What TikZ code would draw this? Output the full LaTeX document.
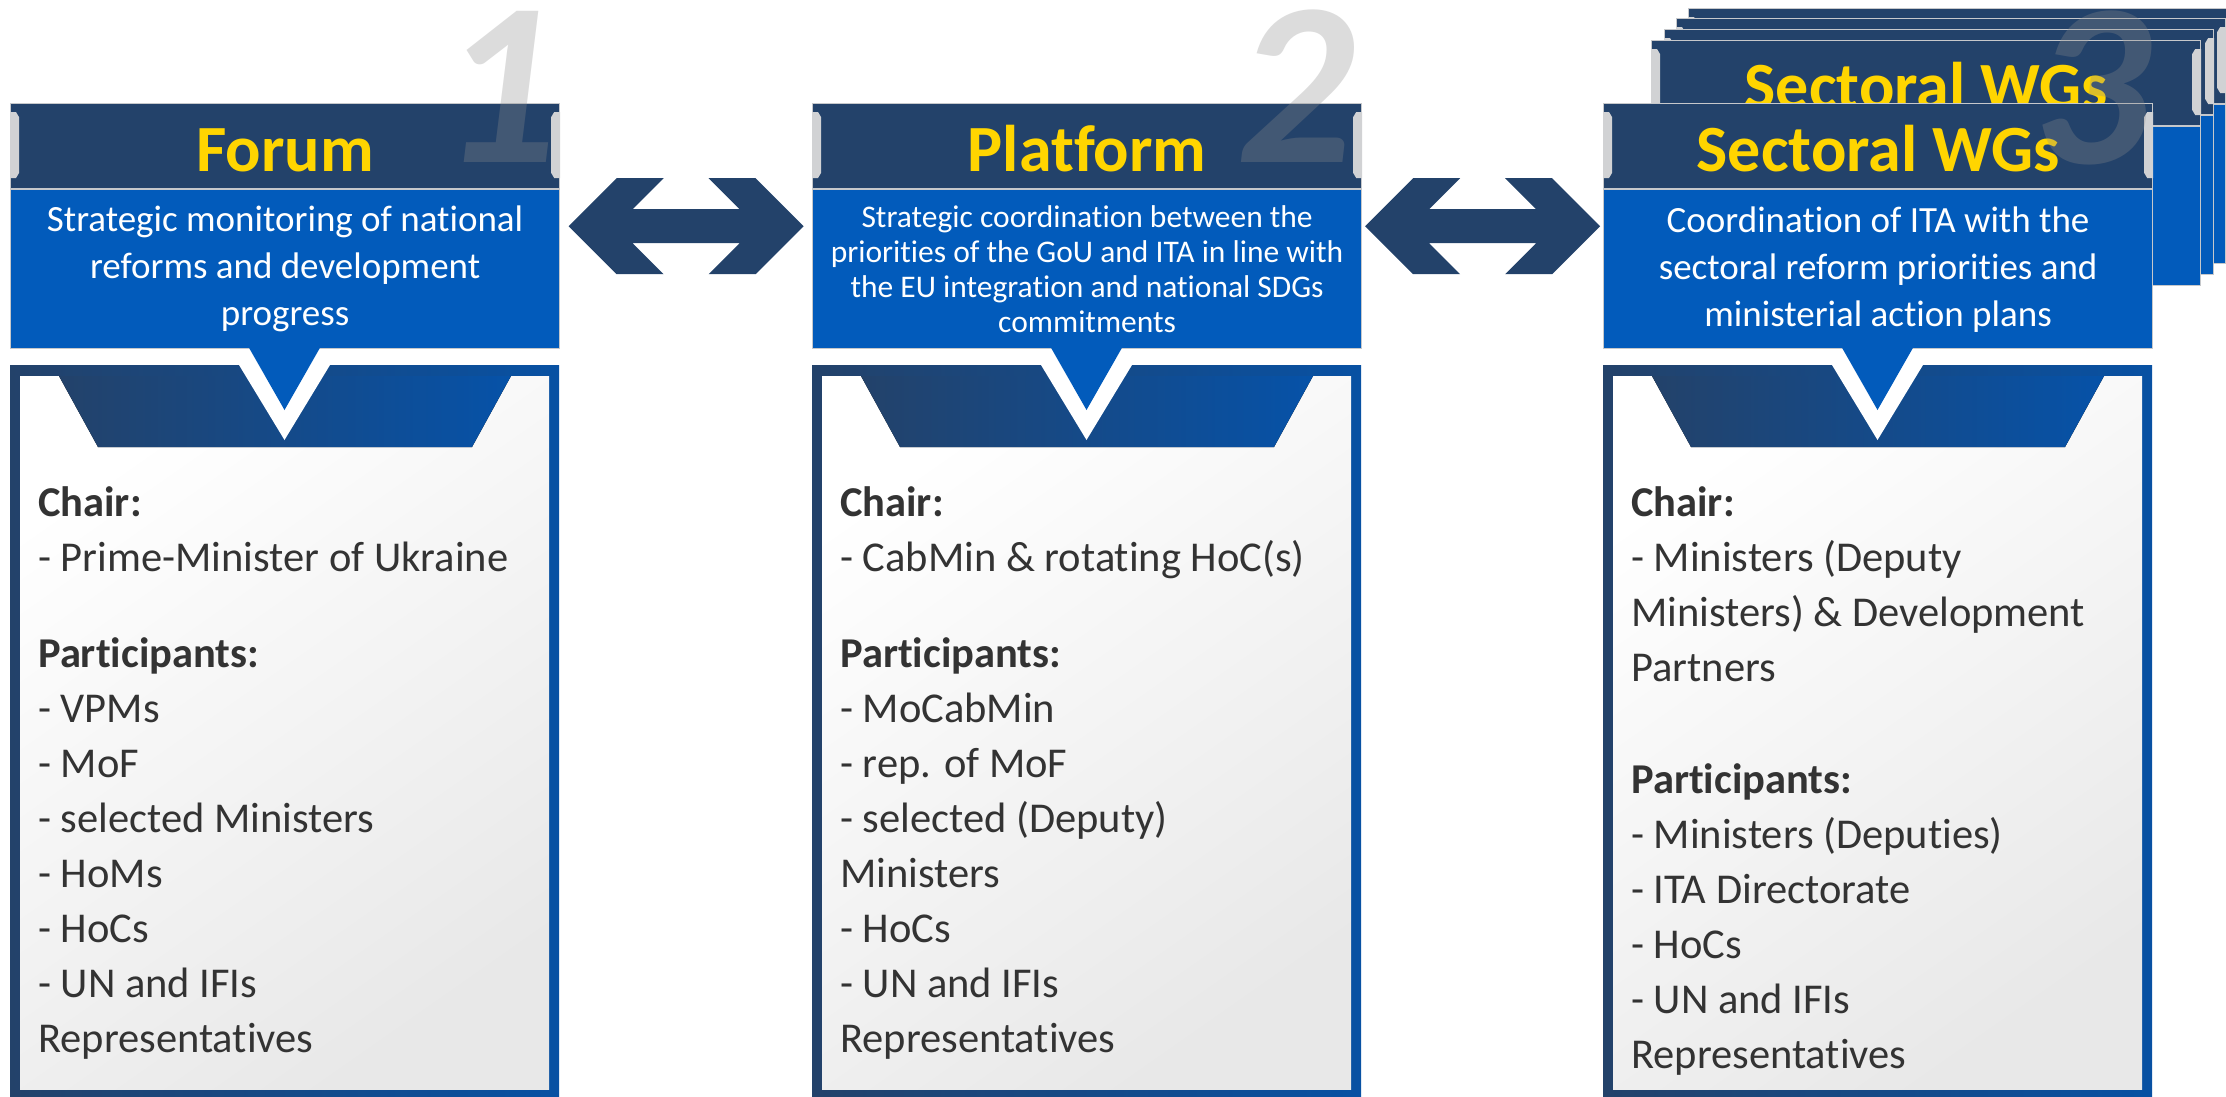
\documentclass[tikz,border=0pt]{standalone}
\usepackage{fontspec}
\setmainfont{Carlito}[Ligatures={NoCommon,NoContextual}]
\usetikzlibrary{calc,positioning}
\definecolor{navy}{RGB}{35,66,106}
\definecolor{bandblue}{RGB}{2,91,187}
\definecolor{wgyellow}{RGB}{255,213,0}
\definecolor{tabgray}{RGB}{209,210,212}
\definecolor{edgegray}{RGB}{198,200,203}
\definecolor{frameblue}{RGB}{8,81,163}
\definecolor{trapblue}{RGB}{6,82,168}
\definecolor{txtgray}{RGB}{51,51,51}
\tikzset{
 hdr/.style={fill=navy, draw=edgegray, line width=1.2pt, minimum width=549pt, minimum height=85pt, inner sep=0pt, text height=51pt, text depth=0pt, text=wgyellow, font=\fontsize{66}{66}\selectfont\bfseries},
 band/.style={fill=bandblue, draw=edgegray, line width=1.2pt, minimum width=549pt, minimum height=159pt, inner sep=0pt, text=white, align=center},
 bigtxt/.style={font=\fontsize{37}{47}\selectfont},
 smalltxt/.style={font=\fontsize{31.5}{35}\selectfont},
 list/.style={anchor=north west, inner sep=0pt, align=left, text=txtgray, font=\fontsize{42.5}{55}\selectfont},
 num/.style={anchor=base, inner sep=0pt, text height=150pt, text depth=0pt, text=black!45, text opacity=.3, font=\fontsize{233}{233}\selectfont\bfseries\itshape},
}
\newcommand\hdrtabs[1]{%
 \fill[tabgray] ($(#1.north west)+(0,9)$) -- ++(6,0) -- ++(3,5) -- ++(0,56) -- ++(-3,5) -- ++(-6,0) -- cycle;
 \fill[tabgray] ($(#1.north east)+(0,9)$) -- ++(-6,0) -- ++(-3,5) -- ++(0,56) -- ++(3,5) -- ++(6,0) -- cycle;}

\begin{document}
\begin{tikzpicture}[x=1pt, y=-1pt]
\useasboundingbox[fill=white] (0,0) rectangle (2226,1096);

\foreach \dx/\dy/\n in {85/95/wgd, 73/85/wgc, 61/74/wgb} {
 \node[hdr, anchor=north west] (\n) at (1603+\dx,103-\dy) {};
 \node[band, below=0pt of \n] (\n band) {};
 \hdrtabs{\n}
}
\node[hdr, anchor=north west] (wga) at (1651,40) {Sectoral WGs};
\node[band, below=0pt of wga] (wgaband) {};
\hdrtabs{wga}

\node[hdr, anchor=north west] (forum) at (10,103) {Forum};
\node[band, bigtxt, below=0pt of forum] (forumband) {Strategic monitoring of national\\reforms and development\\progress};
\node[hdr, anchor=north west] (platform) at (812,103) {Platform};
\node[band, smalltxt, below=0pt of platform] (platformband) {Strategic coordination between the\\priorities of the GoU and ITA in line with\\the EU integration and national SDGs\\commitments};
\node[hdr, anchor=north west] (sectoral) at (1603,103) {Sectoral WGs};
\node[band, bigtxt, below=0pt of sectoral] (sectoralband) {Coordination of ITA with the\\sectoral reform priorities and\\ministerial action plans};
\foreach \n in {forum, platform, sectoral} {\hdrtabs{\n}}

\foreach \x in {10, 812, 1603} {
 \begin{scope}[shift={(\x,0)}]
  \fill[left color=navy, right color=frameblue] (0,365) rectangle (549,1100);
  \fill[top color=white, bottom color=black!9, shading angle=35] (10,376) rectangle (539,1089);
  \fill[left color=navy, right color=trapblue] (49,376) -- (501,376) -- (462,447) -- (88,447) -- cycle;
  \fill[white] (229,365) -- (274.5,440) -- (320,365) -- cycle;
  \fill[bandblue] (238,346) -- (274.5,410) -- (311,346) -- cycle;
 \end{scope}
}

\node[list] (chair1) at (38,486) {\textbf{Chair:}\\- Prime-Minister of Ukraine\\[41.5pt]\textbf{Participants:}\\- VPMs\\- MoF\\- selected Ministers\\- HoMs\\- HoCs\\- UN and IFIs\\Representatives};
\node[list] (chair2) at (840,486) {\textbf{Chair:}\\- CabMin \& rotating HoC(s)\\[41.5pt]\textbf{Participants:}\\- MoCabMin\\- rep. of MoF\\- selected (Deputy)\\Ministers\\- HoCs\\- UN and IFIs\\Representatives};
\node[list] (chair3) at (1631,486) {\textbf{Chair:}\\- Ministers (Deputy\\Ministers) \& Development\\Partners\\[57pt]\textbf{Participants:}\\- Ministers (Deputies)\\- ITA Directorate\\- HoCs\\- UN and IFIs\\Representatives};

\foreach \a/\b in {forumband/platformband, platformband/sectoralband}
 \fill[navy] ($(\a.north east)!.5!(\b.north west)+(-117.5,37)$) -- ++(48,-48) -- ++(47,0) -- ++(-31,31) -- ++(107,0) -- ++(-31,-31) -- ++(47,0) -- ++(48,48) -- ++(-48,48) -- ++(-47,0) -- ++(31,-31) -- ++(-107,0) -- ++(31,31) -- ++(-47,0) -- cycle;

\node[num] (one) at (500,162) {1};
\node[num] (two) at (1296,162) {2};
\node[num] (three) at (2092,163) {3};
\end{tikzpicture}
\end{document}
